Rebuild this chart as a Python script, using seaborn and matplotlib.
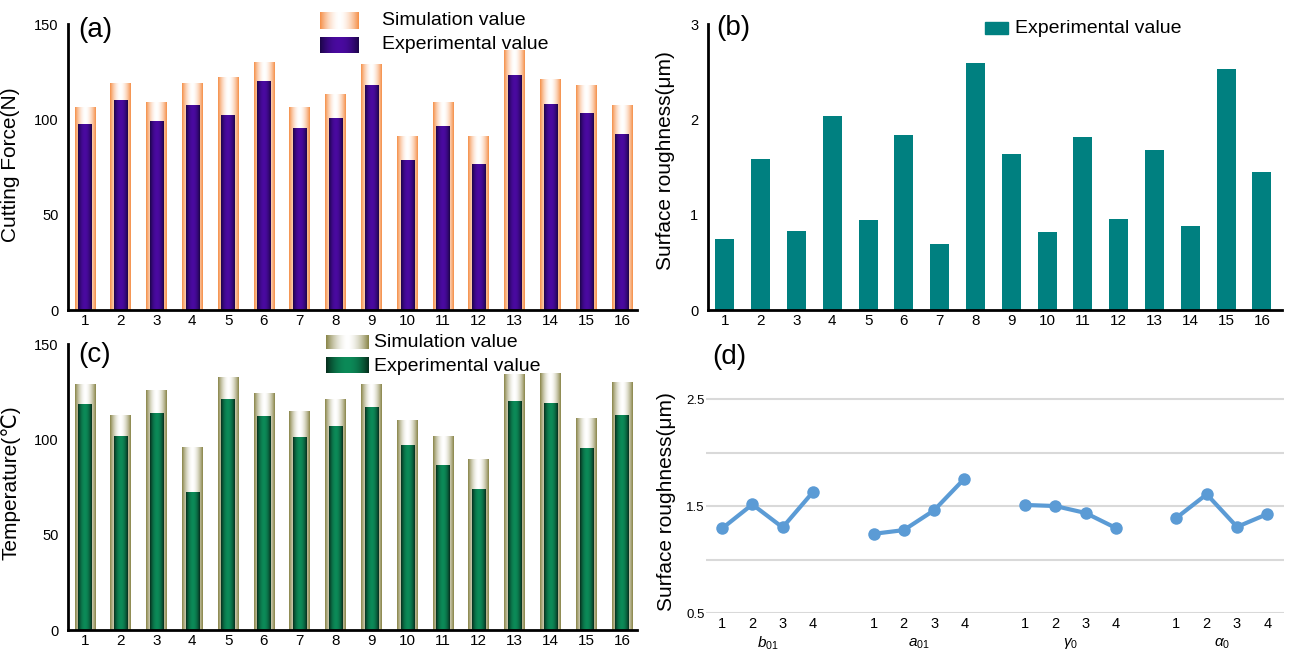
import matplotlib
matplotlib.use("Agg")
import matplotlib.pyplot as plt
import matplotlib.colors as mcolors
import matplotlib.transforms as mtransforms
import numpy as np
import seaborn as sns

# ---- data ----
runs = [str(i) for i in range(1, 17)]
force_sim = [106, 119, 109, 119, 122, 130, 106, 113, 129, 91, 109, 91, 136, 121, 117.5, 107.5]
force_exp = [97.5, 110, 99, 107.5, 102, 120, 95, 100.5, 118, 78.5, 96, 76.5, 123, 108, 103, 92]
rough_exp = [0.745, 1.587, 0.832, 2.035, 0.944, 1.836, 0.689, 2.594,
             1.633, 0.815, 1.815, 0.958, 1.675, 0.885, 2.524, 1.448]
temp_sim = [128.5, 112.5, 125.5, 95.5, 132.5, 124, 114.5, 121, 129, 110, 101.5, 89.5, 134, 134.5, 111, 130]
temp_exp = [118.5, 101.5, 113.5, 72, 121, 112, 101, 106.5, 116.5, 96.5, 86.5, 73.5, 120, 119, 95, 112.5]

factors = ["$\\mathit{b_{01}}$", "$\\mathit{a_{01}}$", "$\\mathit{\\gamma_0}$", "$\\mathit{\\alpha_0}$"]
levels = ["1", "2", "3", "4"]
rough_b01 = [1.29, 1.515, 1.30, 1.63]
rough_a01 = [1.24, 1.275, 1.46, 1.755]
rough_g0 = [1.51, 1.50, 1.435, 1.295]
rough_al0 = [1.39, 1.61, 1.305, 1.425]
rough_means = [rough_b01, rough_a01, rough_g0, rough_al0]

sns.set_style("white")
plt.rcParams["font.family"] = ["Liberation Sans", "DejaVu Sans"]
plt.rcParams["mathtext.fontset"] = "custom"
plt.rcParams["mathtext.it"] = "Liberation Sans:italic"
plt.rcParams["mathtext.rm"] = "Liberation Sans"
for key in ["text.color", "axes.labelcolor", "xtick.color", "ytick.color", "axes.edgecolor"]:
    plt.rcParams[key] = "black"


def grad(edge, mid, n=64, p=1.6):
    t = np.linspace(-1, 1, n)
    w = np.abs(t) ** p
    e = np.array(mcolors.to_rgb(edge))
    m = np.array(mcolors.to_rgb(mid))
    row = m[None, :] * (1 - w[:, None]) + e[None, :] * w[:, None]
    return row[None, :, :]


def paint(ax, patches, img, z):
    for p in patches:
        x, w, h = p.get_x(), p.get_width(), p.get_height()
        ax.imshow(img, extent=[x, x + w, 0, h], aspect="auto", zorder=z,
                  interpolation="bilinear")
        p.set_facecolor("none")
        p.set_edgecolor("none")


def style_bar_axes(ax, top):
    sns.despine(ax=ax)
    ax.spines["left"].set_linewidth(2)
    ax.spines["bottom"].set_linewidth(2)
    ax.tick_params(axis="y", direction="out", length=5, width=1.5, labelsize=10.5, pad=2)
    ax.tick_params(axis="x", length=0, labelsize=11, pad=3)
    ax.set_xlim(-0.47, 15.42)
    ax.set_ylim(0, top)
    ax.set_xlabel("")


def swatch(ax, rect, img):
    ia = ax.inset_axes(rect)
    ia.imshow(img, aspect="auto", interpolation="bilinear")
    ia.set_axis_off()


def gbars(ax, sim, exp, sim_img, exp_img):
    sns.barplot(x=runs, y=sim, ax=ax, width=0.58, linewidth=0, color="white")
    n0 = len(ax.patches)
    paint(ax, ax.patches[:n0], sim_img, 1)
    sns.barplot(x=runs, y=exp, ax=ax, width=0.37, linewidth=0, color="white")
    paint(ax, ax.patches[n0:], exp_img, 2)


fig = plt.figure(figsize=(12.89, 6.56), dpi=100)
ax_a = fig.add_axes([0.0528, 0.5274, 0.4414, 0.436])
ax_b = fig.add_axes([0.5493, 0.5274, 0.4453, 0.436])
ax_c = fig.add_axes([0.0528, 0.0396, 0.4414, 0.436])
ax_d = fig.add_axes([0.5477, 0.0655, 0.4484, 0.4078])

# ---- (a) cutting force ----
orange_img = grad("#f5904a", "#ffffff", p=1.8)
purple_img = grad("#1c0548", "#4a0aa0", p=2.0)
gbars(ax_a, force_sim, force_exp, orange_img, purple_img)
style_bar_axes(ax_a, 150)
ax_a.set_yticks([0, 50, 100, 150])
ax_a.set_ylabel("Cutting Force(N)", fontsize=15)
ax_a.yaxis.set_label_coords(-0.084, 0.507)
ax_a.text(0.018, 0.979, "(a)", transform=ax_a.transAxes, fontsize=20, va="center")
swatch(ax_a, [0.443, 0.983, 0.068, 0.059], orange_img)
swatch(ax_a, [0.443, 0.899, 0.068, 0.056], purple_img)
ax_a.text(0.552, 1.014, "Simulation value", transform=ax_a.transAxes, fontsize=14, va="center")
ax_a.text(0.552, 0.927, "Experimental value", transform=ax_a.transAxes, fontsize=14, va="center")

# ---- (b) surface roughness ----
sns.barplot(x=runs, y=rough_exp, ax=ax_b, width=0.53, color="#008080", linewidth=0, saturation=1)
style_bar_axes(ax_b, 3)
ax_b.set_xlim(-0.47, 15.56)
ax_b.set_yticks([0, 1, 2, 3])
ax_b.set_ylabel("Surface roughness(μm)", fontsize=15)
ax_b.yaxis.set_label_coords(-0.057, 0.524)
ax_b.text(0.014, 0.986, "(b)", transform=ax_b.transAxes, fontsize=20, va="center")
ax_b.add_patch(plt.Rectangle((0.483, 0.965), 0.040, 0.042, transform=ax_b.transAxes,
                             color="#008080", clip_on=False))
ax_b.text(0.535, 0.986, "Experimental value", transform=ax_b.transAxes, fontsize=14, va="center")

# ---- (c) temperature ----
olive_img = grad("#8a864a", "#ffffff", p=1.8)
green_img = grad("#062e1c", "#0c8a58", p=2.0)
gbars(ax_c, temp_sim, temp_exp, olive_img, green_img)
style_bar_axes(ax_c, 150)
ax_c.set_yticks([0, 50, 100, 150])
ax_c.set_ylabel("Temperature(℃)", fontsize=15)
ax_c.yaxis.set_label_coords(-0.084, 0.514)
ax_c.text(0.018, 0.962, "(c)", transform=ax_c.transAxes, fontsize=20, va="center")
swatch(ax_c, [0.453, 0.983, 0.074, 0.049], olive_img)
swatch(ax_c, [0.453, 0.899, 0.074, 0.056], green_img)
ax_c.text(0.538, 1.007, "Simulation value", transform=ax_c.transAxes, fontsize=14, va="center")
ax_c.text(0.538, 0.920, "Experimental value", transform=ax_c.transAxes, fontsize=14, va="center")

# ---- (d) main effects ----
ticks = []
for g, vals in enumerate(rough_means):
    pos = [g * 5 + k for k in range(len(levels))]
    ticks += pos
    sns.lineplot(x=pos, y=vals, ax=ax_d, color="#5b9bd5", linewidth=3,
                 marker="o", markersize=9, markeredgewidth=0)
ax_d.set_ylim(0.5, 3.0)
ax_d.set_xlim(-0.53, 18.55)
ax_d.set_yticks([0.5, 1.5, 2.5])
ax_d.set_yticks([1.0, 2.0], minor=True)
ax_d.grid(axis="y", which="both", color="#d9d9d9", linewidth=1.5)
ax_d.set_axisbelow(True)
for s in ax_d.spines.values():
    s.set_visible(False)
ax_d.set_xticks(ticks)
ax_d.set_xticklabels(levels * len(factors))
ax_d.tick_params(axis="both", which="both", length=0, labelsize=10.5, pad=3)
ax_d.tick_params(axis="y", labelsize=9.5, pad=1)
trans = mtransforms.blended_transform_factory(ax_d.transData, ax_d.transAxes)
for g, name in enumerate(factors):
    ax_d.text(g * 5 + 1.5, -0.115, name, transform=trans, ha="center", va="center", fontsize=11)
ax_d.set_ylabel("Surface roughness(μm)", fontsize=15)
ax_d.yaxis.set_label_coords(-0.052, 0.415)
ax_d.text(0.01, 0.957, "(d)", transform=ax_d.transAxes, fontsize=20, va="center")

fig.savefig("out.png", dpi=100)
